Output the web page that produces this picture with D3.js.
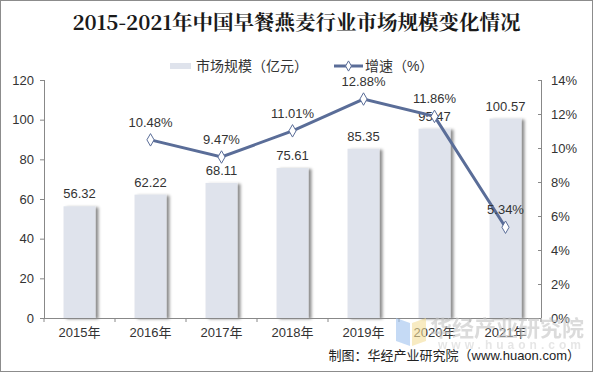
<!DOCTYPE html>
<html>
<head>
<meta charset="utf-8">
<script src="https://cdn.jsdelivr.net/npm/d3@7"></script>
<style>
body { margin: 0; background: #fff; }
svg { display: block; }
</style>
</head>
<body>
<script>
var years = ["2015年", "2016年", "2017年", "2018年", "2019年", "2020年", "2021年"];
var marketSize = [56.32, 62.22, 68.11, 75.61, 85.35, 95.47, 100.57];
// growth rate, no value for 2015
var growth = [null, 10.48, 9.47, 11.01, 12.88, 11.86, 5.34];
var leftTicks = [0, 20, 40, 60, 80, 100, 120];
var rightTicks = [0, 2, 4, 6, 8, 10, 12, 14];

const W = 593, H = 372;
var margin = {top: 80, right: 52, bottom: 54, left: 44};
var width = W - margin.left - margin.right,
    height = H - margin.top - margin.bottom;

var svg = d3.select("body").append("svg")
    .attr("width", W)
    .attr("height", H);

var defs = svg.append("defs");
var f = defs.append("filter").attr("id", "shadow")
    .attr("x", "-20%").attr("y", "-10%").attr("width", "160%").attr("height", "130%");
f.append("feDropShadow")
    .attr("dx", 3).attr("dy", 1)
    .attr("stdDeviation", 1.5)
    .attr("flood-color", "#000")
    .attr("flood-opacity", 0.45);

// outer frame
svg.append("rect")
    .attr("x", 0.5).attr("y", 0.5)
    .attr("width", W - 1).attr("height", H - 1)
    .style("fill", "none").style("stroke", "#8c8c8c");

// title
svg.append("text")
    .attr("x", W / 2) .attr("y", 30)
    .attr("text-anchor", "middle")
    .style("font-family", "'Noto Serif CJK SC', 'DejaVu Serif', 'Liberation Serif', serif")
    .style("font-weight", "bold")
    .style("font-size", "20.5px")
    .style("fill", "#1a1a1a")
    .text("2015-2021年中国早餐燕麦行业市场规模变化情况");

var font = "'Liberation Sans', Arial, 'Noto Sans CJK SC', sans-serif";

// legend
var lg = svg.append("g").style("font-family", font).style("font-size", "14px");
lg.append("rect").attr("x", 170).attr("y", 63).attr("width", 21).attr("height", 6).style("fill", "#dfe3ec");
lg.append("text").attr("x", 196).attr("y", 71).style("fill", "#333").text("市场规模（亿元）");
lg.append("line").attr("x1", 334).attr("x2", 363).attr("y1", 66).attr("y2", 66)
    .style("stroke", "#5a6d98").style("stroke-width", 3);
lg.append("path").attr("d", d3.symbol(d3.symbolDiamond, 30)())
    .attr("transform", "translate(348.5,66)")
    .style("fill", "#fff").style("stroke", "#5a6d98").style("stroke-width", 1);
lg.append("text").attr("x", 365).attr("y", 71).style("fill", "#333").text("增速（%）");

var g = svg.append("g")
    .attr("transform", "translate(" + margin.left + "," + margin.top + ")");

var x = d3.scaleBand().domain(years).range([0, width]).paddingInner(0.55).paddingOuter(0.275);
var xc = d3.scaleBand().domain(years).range([0, width]);
var y = d3.scaleLinear().domain([0, 120]).range([height, 0]);
var y2 = d3.scaleLinear().domain([0, 14]).range([height, 0]);

// watermark behind
var wm = svg.append("g").style("opacity", 0.6);
wm.append("path").attr("d", "M396,318 L410,323 L410,346 L396,341 Z").style("fill", "#9fc3ef");
wm.append("path").attr("d", "M412,323 L426,318 L426,341 L412,346 Z").style("fill", "#f4df9a");
wm.append("text").attr("x", 430).attr("y", 336)
    .style("font-family", "'Noto Sans CJK SC', sans-serif").style("font-weight", "bold")
    .style("font-size", "22px").style("fill", "#c4c4c4").text("华经产业研究院");
wm.append("text").attr("x", 438).attr("y", 349)
    .style("font-family", font).style("font-weight", "bold").style("letter-spacing", "4px")
    .style("font-size", "12px").style("fill", "#d6d6d6").text("www.huaon.com");

// bars
g.selectAll(".bar")
    .data(marketSize)
    .enter().append("rect")
    .attr("class", "bar")
    .attr("x", function(d, i) { return x(years[i]); })
    .attr("y", function(d) { return y(d); })
    .attr("width", x.bandwidth())
    .attr("height", function(d) { return height - y(d); })
    .attr("filter", "url(#shadow)")
    .style("fill", "#dfe3ec");

// left axis
var axL = g.append("g")
    .call(d3.axisLeft(y).tickValues(leftTicks).tickSize(4).tickPadding(6));
// right axis
var axR = g.append("g")
    .attr("transform", "translate(" + width + ",0)")
    .call(d3.axisRight(y2).tickValues(rightTicks).tickSize(-3).tickPadding(10)
        .tickFormat(function(d) { return d + "%"; }));
// bottom axis
var axB = g.append("g")
    .attr("transform", "translate(0," + height + ")")
    .call(d3.axisBottom(xc).tickSize(0).tickPadding(10));
axB.selectAll(".tickmark").data(d3.range(years.length + 1)).enter()
    .append("line")
    .attr("x1", function(i) { return i * xc.step(); })
    .attr("x2", function(i) { return i * xc.step(); })
    .attr("y1", 0).attr("y2", 4)
    .style("stroke", "#888");

[axL, axR, axB].forEach(function(a) {
    a.selectAll("path, line").style("stroke", "#888");
    a.selectAll("text").style("font-family", font).style("font-size", "13px").style("fill", "#333");
});
axB.select(".domain").attr("d", "M0,0.5H" + width);
axL.select(".domain").attr("d", "M0.5," + height + "V0");
axR.select(".domain").attr("d", "M0.5," + height + "V0");

// bar labels
g.selectAll(".blabel")
    .data(marketSize)
    .enter().append("text")
    .attr("x", function(d, i) { return x(years[i]) + x.bandwidth() / 2; })
    .attr("y", function(d) { return y(d) - 8; })
    .attr("text-anchor", "middle")
    .style("font-family", font).style("font-size", "13px").style("fill", "#333")
    .text(function(d) { return d.toFixed(2); });

// growth line
var pts = growth.map(function(d, i) { return {year: years[i], value: d}; })
    .filter(function(d) { return d.value !== null; });

var line = d3.line()
    .x(function(d) { return xc(d.year) + xc.bandwidth() / 2; })
    .y(function(d) { return y2(d.value); });

g.append("path")
    .datum(pts)
    .attr("d", line)
    .style("fill", "none")
    .style("stroke", "#5a6d98")
    .style("stroke-width", 3);

g.selectAll(".dot")
    .data(pts)
    .enter().append("path")
    .attr("d", d3.symbol(d3.symbolDiamond, 45)())
    .attr("transform", function(d) {
        return "translate(" + (xc(d.year) + xc.bandwidth() / 2) + "," + y2(d.value) + ")";
    })
    .style("fill", "#fff").style("stroke", "#5a6d98").style("stroke-width", 1);

g.selectAll(".glabel")
    .data(pts)
    .enter().append("text")
    .attr("x", function(d) { return xc(d.year) + xc.bandwidth() / 2; })
    .attr("y", function(d) { return y2(d.value) - 13; })
    .attr("text-anchor", "middle")
    .style("font-family", font).style("font-size", "13px").style("fill", "#333")
    .text(function(d) { return d.value.toFixed(2) + "%"; });

// source
svg.append("text")
    .attr("x", 580).attr("y", 360)
    .attr("text-anchor", "end")
    .style("font-family", font).style("font-size", "13px").style("fill", "#222")
    .text("制图：华经产业研究院（www.huaon.com）");
</script>
</body>
</html>
